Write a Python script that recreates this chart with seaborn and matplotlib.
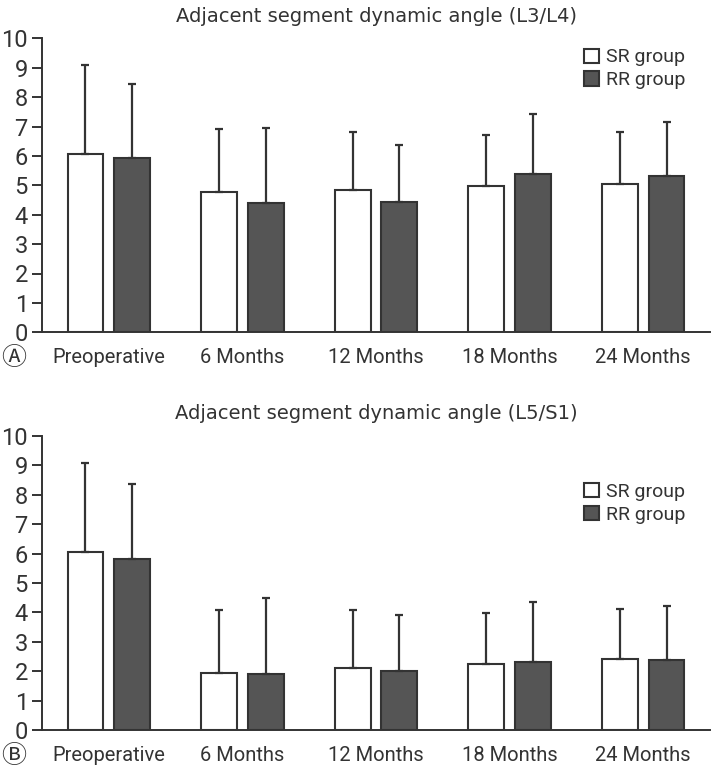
import numpy as np
import pandas as pd
import matplotlib
matplotlib.use("Agg")
import matplotlib.pyplot as plt
import seaborn as sns

# data (mean and SD)
months = ["Preoperative", "6 Months", "12 Months", "18 Months", "24 Months"]
groups = ["SR group", "RR group"]

l3l4_sr = [6.06, 4.78, 4.84, 4.99, 5.05]
l3l4_rr = [5.92, 4.41, 4.44, 5.39, 5.30]
l3l4_sr_sd = [3.03, 2.13, 1.97, 1.73, 1.75]
l3l4_rr_sd = [2.51, 2.55, 1.92, 2.02, 1.86]

l5s1_sr = [6.04, 1.96, 2.11, 2.25, 2.43]
l5s1_rr = [5.83, 1.92, 2.01, 2.31, 2.38]
l5s1_sr_sd = [3.03, 2.11, 1.96, 1.74, 1.69]
l5s1_rr_sd = [2.52, 2.57, 1.91, 2.03, 1.84]

yticks = list(range(0, 11))

DARK = "#333333"
FILL = {"SR group": "white", "RR group": "#555555"}
NARROW = ["Roboto", "DejaVu Sans"]


def make_df(sr, rr):
    rows = []
    for m, a, b in zip(months, sr, rr):
        rows.append({"month": m, "group": "SR group", "value": a})
        rows.append({"month": m, "group": "RR group", "value": b})
    return pd.DataFrame(rows)


def draw_panel(ax, sr, rr, sr_sd, rr_sd, title, letter, legend_y):
    df = make_df(sr, rr)
    sns.barplot(data=df, x="month", y="value", hue="group", order=months,
                hue_order=groups, palette=FILL, edgecolor=DARK, linewidth=1.5,
                width=0.7, gap=0.235, errorbar=None, ax=ax)
    # upper-only SD bars
    for cont, sds in zip(ax.containers, [sr_sd, rr_sd]):
        for bar, sd in zip(cont, sds):
            xc = bar.get_x() + bar.get_width() / 2
            ax.errorbar(xc, bar.get_height(), yerr=[[0], [sd]], fmt="none",
                        ecolor=DARK, elinewidth=1.6, capsize=3, capthick=1.6,
                        zorder=1)
    ax.set_xlim(-0.5, 4.5)
    ax.set_ylim(0, 10)
    ax.set_yticks(yticks)
    ax.set_xlabel("")
    ax.set_ylabel("")
    for s in ["top", "right"]:
        ax.spines[s].set_visible(False)
    for s in ["left", "bottom"]:
        ax.spines[s].set_color(DARK)
        ax.spines[s].set_linewidth(1.4)
    ax.tick_params(axis="y", left=True, length=7.2, width=1.4, color=DARK,
                   pad=3, labelsize=17, labelcolor=DARK)
    ax.tick_params(axis="x", bottom=False, length=0, pad=11, labelsize=14.5,
                   labelcolor=DARK)
    for lab in ax.get_xticklabels() + ax.get_yticklabels():
        lab.set_family(NARROW)
    ax.set_title(title, fontsize=14, color=DARK, pad=12)
    handles, labels = ax.get_legend_handles_labels()
    leg = ax.legend(handles, labels, frameon=False, loc="upper right",
                    bbox_to_anchor=(0.99, legend_y), handlelength=0.75,
                    handleheight=0.75, handletextpad=0.4, labelspacing=0.25,
                    prop={"family": NARROW, "size": 14})
    for t in leg.get_texts():
        t.set_color(DARK)
    ax.text(-0.043, -0.086, letter, transform=ax.transAxes, ha="center",
            va="center", fontsize=18, color=DARK,
            family=["Noto Sans CJK KR", "DejaVu Sans"])


sns.set_style("white")
fig = plt.figure(figsize=(7.11, 7.73), dpi=100)
ax_a = fig.add_axes([42 / 711, 1 - 332.3 / 773, 668 / 711, 294 / 773])
ax_b = fig.add_axes([42 / 711, 1 - 730.3 / 773, 668 / 711, 294.6 / 773])

draw_panel(ax_a, l3l4_sr, l3l4_rr, l3l4_sr_sd, l3l4_rr_sd,
           "Adjacent segment dynamic angle (L3/L4)", "\u24b6", 1.025)
draw_panel(ax_b, l5s1_sr, l5s1_rr, l5s1_sr_sd, l5s1_rr_sd,
           "Adjacent segment dynamic angle (L5/S1)", "\u24b7", 0.9)

fig.savefig("out.png", dpi=100)
